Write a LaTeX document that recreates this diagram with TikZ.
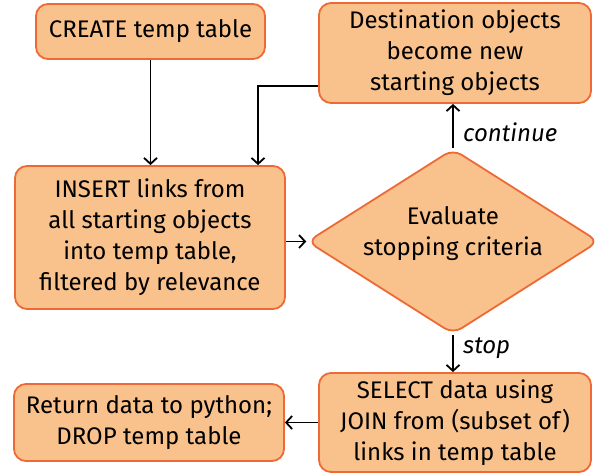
\documentclass[tikz,border=0pt]{standalone}
\usepackage{fontspec}
\setmainfont{Fira Sans}
\usetikzlibrary{shapes.geometric,arrows.meta}
\definecolor{boxfill}{RGB}{249,193,139}
\definecolor{boxline}{RGB}{237,106,55}

\begin{document}
\begin{tikzpicture}[x=1pt,y=-1pt,
  stepbox/.style={draw=boxline,fill=boxfill,line width=1.8pt,rounded corners=12pt,
    align=center,inner sep=0pt,font=\fontsize{24}{31}\selectfont},
  decide/.style={diamond,aspect=1.6,draw=boxline,fill=boxfill,line width=1.8pt,rounded corners=10pt,
    align=center,inner sep=0pt,minimum width=291pt,minimum height=185pt,
    text depth=21pt,font=\fontsize{24}{31}\selectfont},
  arr/.style={-{Straight Barb[length=6pt,width=13pt]},line width=1.8pt},
  lbl/.style={font=\fontsize{24}{29}\selectfont\itshape,anchor=west}]
\useasboundingbox (0,0) rectangle (595,476);

\node [stepbox,minimum width=229pt,minimum height=55pt] (create) at (150.5,31.5) {CREATE temp table};
\node [stepbox,minimum width=272pt,minimum height=100pt] (dest) at (455,53) {Destination objects\\become new\\starting objects};
\node [stepbox,minimum width=270pt,minimum height=143pt] (insert) at (150,237.5) {INSERT links from\\all starting objects\\into temp table,\\filtered by relevance};
\node [decide] (eval) at (453,241.5) {Evaluate\\stopping criteria};
\node [stepbox,minimum width=272pt,minimum height=99pt] (select) at (455,422.5) {SELECT data using\\JOIN from (subset of)\\links in temp table};
\node [stepbox,minimum width=270pt,minimum height=77pt] (return) at (149,422.5) {Return data to python;\\DROP temp table};

\draw [arr] (create) -- (insert.north -| create);
\draw [arr] ([yshift=-33pt]dest.west) -| ([xshift=108pt]insert.north);
\draw [arr] (insert.east |- eval) -- (eval.west);
\draw [arr] (eval.north) -- (dest.south -| eval.north) node [lbl,pos=0.36,xshift=6pt] {continue};
\draw [arr] (eval.south) -- (select.north -| eval.south) node [lbl,pos=0.37,xshift=6pt] {stop};
\draw [arr] (select.west) -- (return.east);
\end{tikzpicture}
\end{document}
